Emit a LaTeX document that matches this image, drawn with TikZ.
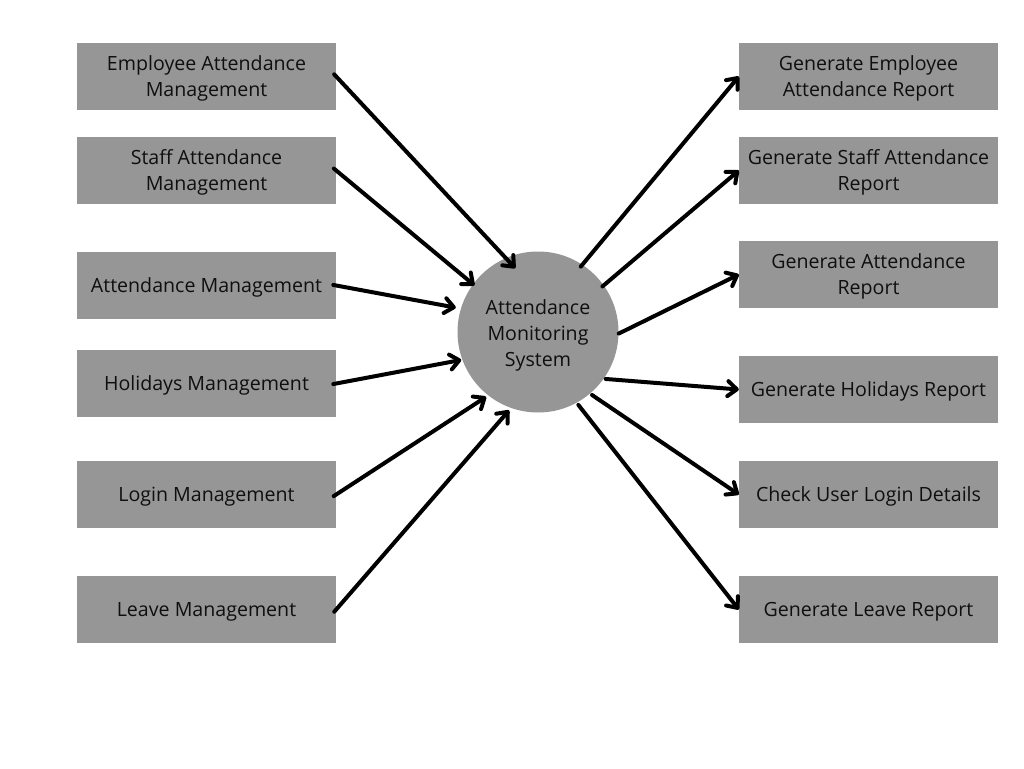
\documentclass[tikz,border=0pt]{standalone}
\usepackage{fontspec}
\setmainfont{Open Sans}
\usetikzlibrary{arrows.meta}
\definecolor{boxgray}{RGB}{150,150,150}
\definecolor{txt}{RGB}{15,15,15}
\begin{document}
\begin{tikzpicture}[x=1pt,y=-1pt,
  box/.style={draw=none,minimum width=259pt,minimum height=67pt,
    preaction={fill=boxgray,transform canvas={yshift=2pt}},
    inner sep=0pt,align=center,text=txt,font=\fontsize{19.6}{26}\selectfont},
  hub/.style={circle,draw=none,minimum size=161pt,inner sep=0pt,
    preaction={fill=boxgray,transform canvas={yshift=3pt}},
    align=center,text=txt,font=\fontsize{19.6}{26}\selectfont},
  conn/.style={line width=4pt,line cap=round,line join=round,
    -{Straight Barb[length=9pt,width=15pt,line width=4pt,round]}}]
\useasboundingbox[fill=white] (0,0) rectangle (1024,768);
% left column
\node[box] (L1) at (206.5,78.5) {Employee Attendance\\Management};
\node[box] (L2) at (206.5,172.5) {Staff Attendance\\Management};
\node[box] (L3) at (206.5,287.5) {Attendance Management};
\node[box] (L4) at (206.5,385.5) {Holidays Management};
\node[box] (L5) at (206.5,496.5) {Login Management};
\node[box] (L6) at (206.5,611.5) {Leave Management};
% right column
\node[box] (R1) at (868.5,78.5) {Generate Employee\\Attendance Report};
\node[box] (R2) at (868.5,172.5) {Generate Staff Attendance\\Report};
\node[box] (R3) at (868.5,276.5) {Generate Attendance\\Report};
\node[box] (R4) at (868.5,391.5) {Generate Holidays Report};
\node[box] (R5) at (868.5,496.5) {Check User Login Details};
\node[box] (R6) at (868.5,611.5) {Generate Leave Report};
% hub
\node[hub] (C) at (538,335) {Attendance\\Monitoring\\System};
% inputs
\draw[conn,shorten <=-3pt,shorten >=-11pt] ([yshift=2pt]L1.east) -- (C.112);
\draw[conn,shorten <=-3pt] ([yshift=2pt]L2.east) -- (C.142);
\draw[conn,shorten <=-3pt,shorten >=6pt] ([yshift=2pt]L3.east) -- (C.161);
\draw[conn,shorten <=-3pt] ([yshift=2pt]L4.east) -- (C.198);
\draw[conn,shorten <=-3pt] ([yshift=2pt]L5.east) -- (C.230);
\draw[conn,shorten <=-3pt] ([yshift=2pt]L6.east) -- (C.249);
% outputs
\draw[conn] (C.58) -- ([yshift=2pt]R1.west);
\draw[conn] (C.37) -- ([yshift=2pt]R2.west);
\draw[conn] (C.1) -- ([yshift=2pt]R3.west);
\draw[conn] (C.327) -- ([yshift=2pt]R4.west);
\draw[conn] (C.312) -- ([yshift=2pt]R5.west);
\draw[conn] (C.300) -- ([yshift=2pt]R6.west);
\end{tikzpicture}
\end{document}
